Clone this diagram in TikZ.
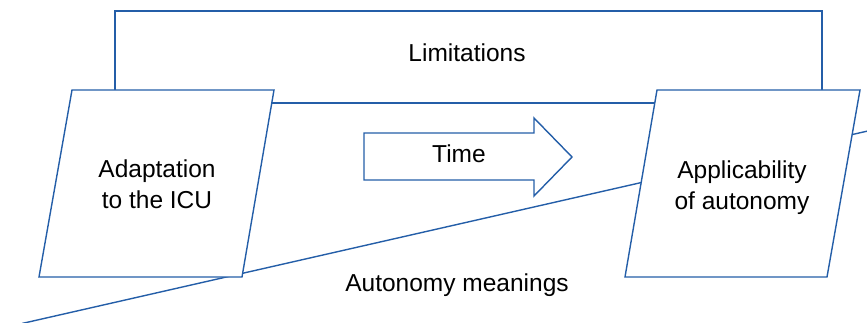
\documentclass[tikz,border=0pt]{standalone}
\usepackage{fontspec}
\setmainfont{Liberation Sans}
\definecolor{lineblue}{RGB}{36,94,168}
\begin{document}
\begin{tikzpicture}[x=1pt,y=-1pt,
  edge/.style={draw=lineblue,line width=1.4pt},
  shapebox/.style={draw=lineblue,line width=1.4pt,fill=white,line join=miter},
  lbl/.style={font=\fontsize{24.5}{31}\selectfont,text=black,anchor=base,inner sep=0pt,align=center}]
\useasboundingbox (0,0) rectangle (867,323);
\begin{scope}
\clip (0,0) rectangle (867,323);
% Limitations bracket
\coordinate (l1) at (115,90);
\coordinate (l2) at (115,11);
\coordinate (l3) at (822,11);
\coordinate (l4) at (822,90);
\draw[edge] (l1) -- (l2) -- (l3) -- (l4);
\coordinate (l5) at (270,103);
\coordinate (l6) at (660,103);
\draw[edge] (l5) -- (l6);
% Autonomy meanings line
\coordinate (m1) at (22,323.5);
\coordinate (m2) at (870,130.5);
\draw[edge] (m1) -- (m2);
% Parallelograms
\coordinate (a1) at (72,90); \coordinate (a2) at (274,90);
\coordinate (a3) at (242,277); \coordinate (a4) at (39,277);
\draw[shapebox] (a1) -- (a2) -- (a3) -- (a4) -- cycle;
\coordinate (b1) at (657,90); \coordinate (b2) at (860,90);
\coordinate (b3) at (827,277); \coordinate (b4) at (625,277);
\draw[shapebox] (b1) -- (b2) -- (b3) -- (b4) -- cycle;
% Time arrow
\coordinate (t1) at (364,133); \coordinate (t2) at (534,133);
\coordinate (t3) at (534,118); \coordinate (t4) at (572,157);
\coordinate (t5) at (534,196); \coordinate (t6) at (534,180);
\coordinate (t7) at (364,180);
\draw[shapebox] (t1) -- (t2) -- (t3) -- (t4) -- (t5) -- (t6) -- (t7) -- cycle;
\end{scope}
% Labels
\node[lbl] (lim) at (467,62) {Limitations};
\node[lbl] (time) at (459,163) {Time};
\node[lbl] (adapt) at (157,208) {Adaptation\\to the ICU};
\node[lbl] (appl) at (742,209) {Applicability\\of autonomy};
\node[lbl] (mean) at (457,291) {Autonomy meanings};
\end{tikzpicture}
\end{document}
